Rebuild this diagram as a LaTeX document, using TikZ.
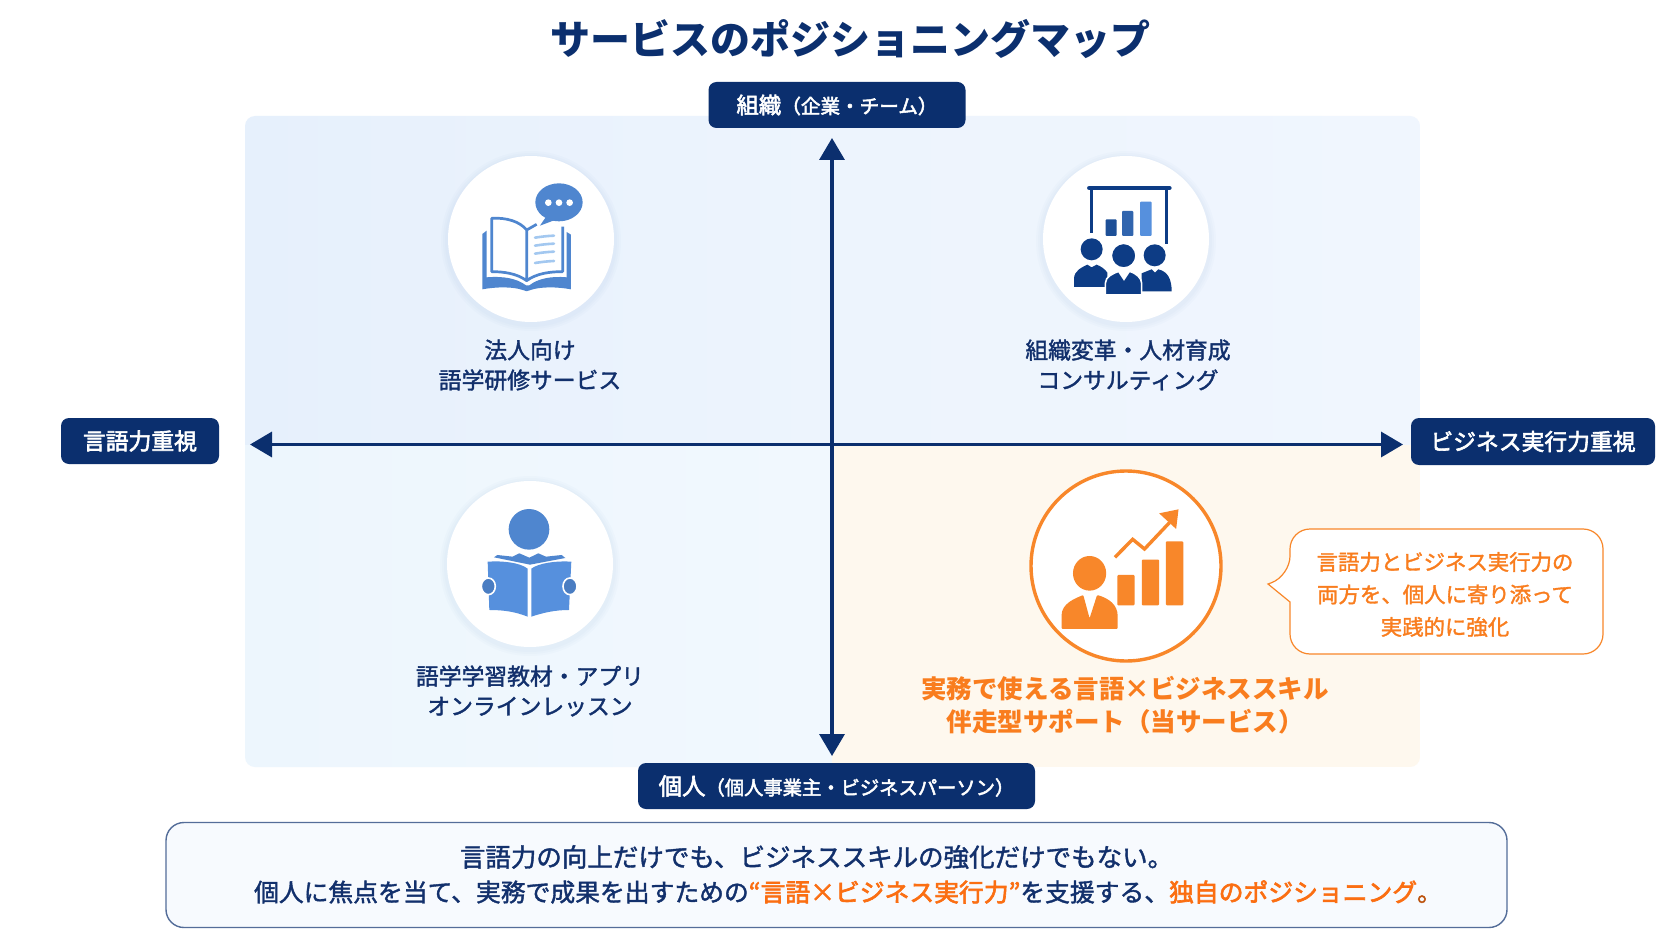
\documentclass[tikz,border=0pt]{standalone}
\usepackage{fontspec}
\usetikzlibrary{arrows.meta}
\setmainfont{Noto Sans CJK JP}
\newfontfamily\medfont[FakeBold=1.6]{Noto Sans CJK JP}
\newfontfamily\semifont[FakeBold=2.6]{Noto Sans CJK JP}
\definecolor{navy}{HTML}{0B2F6E}
\definecolor{txtnavy}{HTML}{12306C}
\definecolor{bookblue}{HTML}{4F86CF}
\definecolor{lineblue}{HTML}{A3C8F0}
\definecolor{readblue}{HTML}{5690DD}
\definecolor{handblue}{HTML}{4A7DC2}
\definecolor{darkblue}{HTML}{0D3C85}
\definecolor{orng}{HTML}{F8872A}
\definecolor{orngtxt}{HTML}{F97D1E}
\definecolor{orngbold}{HTML}{FB6E12}
\definecolor{pa}{HTML}{E6F0FC}
\definecolor{pb}{HTML}{EDF4FD}
\definecolor{pc}{HTML}{F0F6FE}
\definecolor{pd}{HTML}{EDF6FD}
\definecolor{pe}{HTML}{F1F8FE}
\definecolor{pf}{HTML}{FEF8EE}
\newcommand{\fs}[2]{\fontsize{#1}{#2}\selectfont}
\tikzset{
  x=1pt,y=-1pt,
  axislabel/.style={fill=navy,text=white,rounded corners=8pt,inner sep=0pt,font=\semifont},
  axisline/.style={draw=navy,line width=3.4pt,-{Triangle[length=22pt,width=25pt]}},
  quadtext/.style={text=txtnavy,align=center,inner sep=0pt,font=\medfont\fs{22.8}{30}},
  softring/.style={fill=bookblue,opacity=0.025}
}
\begin{document}
\begin{tikzpicture}
\useasboundingbox (0,0) rectangle (1672,941);
\fill[white] (0,0) rectangle (1672,941);
% panel
\begin{scope}
\clip[rounded corners=10pt] (245,116) rectangle (1420,767);
\shade[left color=pa,right color=pb] (245,116) rectangle (832,445);
\shade[left color=pb,right color=pc] (832,116) rectangle (1420,445);
\shade[left color=pd,right color=pe] (245,445) rectangle (832,767);
\fill[pf] (832,445) rectangle (1420,767);
\end{scope}
% axes
\coordinate (axisC) at (832,444.5);
\coordinate (axisL) at (250,444.5);
\coordinate (axisR) at (1403,444.5);
\coordinate (axisT) at (832,138);
\coordinate (axisB) at (832,756);
\draw[axisline] (axisC) -- (axisL);
\draw[axisline] (axisC) -- (axisR);
\draw[axisline] (axisC) -- (axisT);
\draw[axisline] (axisC) -- (axisB);
% title
\node[text=navy,font=\bfseries\fs{40}{48},inner sep=0pt] (title) at (850,39.5) {サービスのポジショニングマップ};
% axis labels
\node[axislabel,minimum width=257pt,minimum height=46pt] (top) at (837,105) {\fs{22.4}{26}組織\fs{19.6}{26}（企業・チーム）};
\node[axislabel,minimum width=397pt,minimum height=46pt] (bottom) at (836.5,786) {\fs{23.4}{26}個人\fs{19.3}{26}（個人事業主・ビジネスパーソン）};
\node[axislabel,minimum width=158pt,minimum height=46pt] (left) at (140,441) {\fs{22.8}{26}言語力重視};
\node[axislabel,minimum width=244pt,minimum height=47pt] (right) at (1533,441.5) {\fs{22.8}{26}ビジネス実行力重視};
% circles
\foreach \cx/\cy/\nm in {531/239/ca,1126/239/cb,530/564/cc}{
  \foreach \rr in {90,88,86}{\fill[softring] (\cx,\cy+2) circle (\rr);}
  \fill[white] (\cx,\cy) circle (83);
}
% book icon
\begin{scope}[shift={(400,130)},x=0.3333pt,y=-0.3333pt]
  \fill[bookblue] (247,312) -- (260,302) -- (260,442) .. controls (310,438) and (350,445) .. (378,466) -- (388,466) .. controls (415,445) and (455,438) .. (500,442) -- (500,306) -- (513,314) -- (513,478) .. controls (470,470) and (420,470) .. (392,480) .. controls (385,485) and (375,485) .. (368,480) .. controls (340,470) and (290,470) .. (247,478) -- cycle;
  \draw[bookblue,line width=2.7pt,line join=round] (380,452) .. controls (350,430) and (310,425) .. (275,425) -- (275,265) .. controls (320,262) and (360,275) .. (380,300) -- (380,452) .. controls (410,430) and (450,425) .. (488,425) -- (488,290);
  \draw[bookblue,line width=2.7pt] (380,300) -- (410,283);
  \foreach \yy in {320,344,368,396}{\draw[lineblue,line width=2.6pt,line cap=round] (405,\yy+3) .. controls (425,\yy) and (440,\yy-2) .. (462,\yy-3);}
  \fill[bookblue] (477,217) ellipse [x radius=71,y radius=57];
  \fill[bookblue] (437,262) -- (420,287) -- (465,270) -- cycle;
  \foreach \xx in {445,477,509}{\fill[white] (\xx,218) circle (10);}
\end{scope}
% presentation icon
\begin{scope}[shift={(1000,130)},x=0.3333pt,y=-0.3333pt]
  \draw[darkblue,line width=4.6pt,line cap=round] (268,174) -- (508,174);
  \draw[darkblue,line width=3pt] (275,178) -- (275,310);
  \draw[darkblue,line width=3pt] (501,178) -- (501,342);
  \fill[rounded corners=1pt,fill=darkblue!75!bookblue] (317,268) rectangle (350,318);
  \fill[rounded corners=1pt,fill=darkblue!45!bookblue] (366,243) rectangle (400,318);
  \fill[rounded corners=1pt,fill=readblue] (420,215) rectangle (455,318);
  \fill[darkblue] (275,358) circle (33);
  \fill[darkblue] (464,376) circle (33);
  \fill[darkblue] (222,471) -- (222,447) .. controls (222,422) and (245,412) .. (262,404) -- (275,412) -- (290,404) .. controls (305,410) and (315,418) .. (322,428) -- (322,471) -- cycle;
  \fill[darkblue] (425,484) -- (425,430) .. controls (435,426) and (445,422) .. (455,418) -- (465,428) -- (475,418) .. controls (505,425) and (515,450) .. (515,484) -- cycle;
  \fill[darkblue,draw=white,line width=1.6pt] (371,377) circle (37);
  \fill[darkblue,draw=white,line width=1.6pt] (316,495) -- (316,460) .. controls (316,440) and (340,430) .. (356,424) -- (372,448) -- (388,424) .. controls (410,430) and (425,445) .. (425,460) -- (425,495) -- cycle;
\end{scope}
% reader icon
\begin{scope}[shift={(420,470)},x=0.3333pt,y=-0.3333pt]
  \fill[bookblue] (327,178) circle (61);
  \fill[bookblue] (222,262) -- (232,255) -- (278,260) -- (298,250) -- (328,263) -- (355,250) -- (378,260) -- (425,255) -- (436,264) -- (330,284) -- cycle;
  \fill[readblue] (203,275) .. controls (250,272) and (300,278) .. (323,296) -- (323,440) .. controls (285,425) and (250,420) .. (208,420) -- cycle;
  \fill[readblue] (334,296) .. controls (355,280) and (405,272) .. (454,275) -- (447,420) .. controls (405,420) and (370,428) .. (334,440) -- cycle;
  \fill[handblue,draw=white,line width=1.6pt] (205,349) ellipse [x radius=21,y radius=25];
  \fill[handblue,draw=white,line width=1.6pt] (450,349) ellipse [x radius=21,y radius=25];
\end{scope}
% orange circle
\fill[white,draw=orng,line width=3.4pt] (1126,566) circle (95);
\begin{scope}[shift={(1020,460)},x=0.3953pt,y=-0.3333pt]
  \fill[orng] (176,340) ellipse [x radius=42,y radius=52];
  \fill[orng,rounded corners=1pt] (105,507) -- (105,470) .. controls (105,430) and (140,415) .. (160,405) -- (176,475) -- (195,405) .. controls (225,415) and (247,435) .. (247,470) -- (247,507) -- cycle;
  \fill[orng,rounded corners=1pt] (246,345) rectangle (290,436);
  \fill[orng,rounded corners=1pt] (308,299) rectangle (352,436);
  \fill[orng,rounded corners=1pt] (369,244) rectangle (413,436);
  \draw[orng,line width=3.4pt,line join=miter] (240,292) -- (285,238) -- (315,267) -- (378,188);
  \fill[orng] (352,160) -- (401,148) -- (395,207) -- cycle;
\end{scope}
% quadrant texts
\node[quadtext] (q1) at (530,365) {法人向け\\語学研修サービス};
\node[quadtext] (q2) at (1128,365) {組織変革・人材育成\\コンサルティング};
\node[quadtext] (q3) at (530,691) {語学学習教材・アプリ\\オンラインレッスン};
\node[text=orngtxt,align=center,inner sep=0pt,font=\bfseries\fs{25.5}{33}] (q4) at (1125,705.5) {実務で使える言語×ビジネススキル\\伴走型サポート（当サービス）};
% callout
\coordinate (tip) at (1268,584);
\draw[orng,line width=1.2pt,fill=white] (1290,576) -- (tip) -- (1290,602) [rounded corners=20pt] -- (1290,654) -- (1603,654) -- (1603,529) -- (1290,529) -- cycle;
\node[text=orngtxt,align=center,inner sep=0pt,font=\medfont\fs{21.4}{32.5}] (note) at (1445,594.5) {言語力とビジネス実行力の\\両方を、個人に寄り添って\\実践的に強化};
% bottom box
\node[draw=navy!70,line width=1.4pt,fill=pc!55,rounded corners=18pt,minimum width=1341pt,minimum height=105pt,inner sep=0pt] (box) at (836.5,875) {};
\node[text=txtnavy,inner sep=0pt,font=\medfont\fs{25.5}{30}] (b1) at (816.5,857) {言語力の向上だけでも、ビジネススキルの強化だけでもない。};
\node[text=txtnavy,inner sep=0pt,font=\medfont\fs{24.8}{30}] (b2) at (848,892) {個人に焦点を当て、実務で成果を出すための{\semifont\color{orngbold}“言語×ビジネス実行力”}を支援する、{\semifont\color{orngbold}独自のポジショニング}{\color{orngbold!75!black}。}};
\end{tikzpicture}
\end{document}
